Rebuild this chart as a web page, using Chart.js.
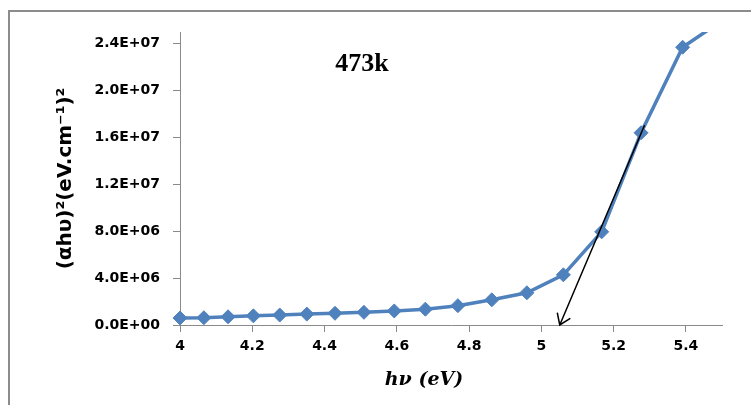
<!DOCTYPE html>
<html>
<head>
<meta charset="utf-8">
<script src="https://cdn.jsdelivr.net/npm/chart.js@4/dist/chart.umd.min.js"></script>
<style>
  html, body { margin: 0; padding: 0; background: #fff; }
  #wrap { position: relative; width: 751px; height: 405px; }
</style>
</head>
<body>
<div id="wrap"><canvas id="tauc"></canvas></div>
<script>
// Photon energy hν (eV): one reading every 5 nm, 310 nm down to 225 nm
const photonEnergy = [4.000, 4.066, 4.133, 4.203, 4.276, 4.351, 4.429, 4.509, 4.593,
                      4.679, 4.769, 4.863, 4.960, 5.061, 5.167, 5.276, 5.391, 5.511];
// (αhν)² in (eV·cm⁻¹)²
const alphaHvSquared = [6.0e5, 6.2e5, 7.0e5, 7.8e5, 8.5e5, 9.3e5, 1.0e6, 1.08e6, 1.2e6,
                        1.35e6, 1.65e6, 2.15e6, 2.75e6, 4.28e6, 7.95e6, 1.64e7, 2.37e7, 2.62e7];
const xTicks = [4, 4.2, 4.4, 4.6, 4.8, 5, 5.2, 5.4];
const yTicks = [0, 4e6, 8e6, 1.2e7, 1.6e7, 2.0e7, 2.4e7];
// Tangent to the absorption edge, extrapolated down to zero
const tangentFrom = [5.285, 1.70e7];
const tangentTo = [5.051, 0];

const sampleLabel = '473k';
const xTitle = 'hν (eV)';
const yTitle = '(αhυ)²(eV.cm⁻¹)²';

const AXIS_GREY = '#8a8a8a';
const SERIES_BLUE = '#4F81BD';
const tickFont = { family: '"DejaVu Sans", Verdana, sans-serif', size: 14, weight: 'bold' };

function sci(v) {
  if (v === 0) return '0.0E+00';
  const e = Math.floor(Math.log10(v) + 1e-9);
  const m = v / Math.pow(10, e);
  return m.toFixed(1) + 'E+' + String(e).padStart(2, '0');
}

const points = photonEnergy.map((x, i) => ({ x, y: alphaHvSquared[i] }));

// Outer frame, sample label and x-axis title
const decorations = {
  id: 'decorations',
  beforeDraw(chart) {
    const ctx = chart.ctx;
    ctx.save();
    ctx.fillStyle = '#8c8c8c';
    ctx.fillRect(8, 10, 2, chart.height - 10);
    ctx.fillRect(8, 10, chart.width - 8, 2);
    ctx.restore();
  },
  afterDraw(chart) {
    const ctx = chart.ctx;
    ctx.save();
    ctx.fillStyle = '#000';
    ctx.textAlign = 'center';
    ctx.textBaseline = 'middle';
    ctx.font = 'bold 26px "Liberation Serif", "Times New Roman", serif';
    ctx.fillText(sampleLabel, 362, 64);
    ctx.font = 'italic bold 19px "DejaVu Serif", serif';
    ctx.fillText(xTitle, 424, 380);
    ctx.restore();
  }
};

// Tangent arrow, placed through the chart scales
const tangentArrow = {
  id: 'tangentArrow',
  afterDatasetsDraw(chart) {
    const { x: xs, y: ys } = chart.scales;
    const x0 = xs.getPixelForValue(tangentFrom[0]);
    const y0 = ys.getPixelForValue(tangentFrom[1]);
    const x1 = xs.getPixelForValue(tangentTo[0]);
    const y1 = ys.getPixelForValue(tangentTo[1]);
    const ctx = chart.ctx;
    ctx.save();
    ctx.strokeStyle = '#000';
    ctx.lineWidth = 1.5;
    ctx.lineCap = 'round';
    ctx.beginPath();
    ctx.moveTo(x0, y0);
    ctx.lineTo(x1, y1);
    const ang = Math.atan2(y0 - y1, x0 - x1);
    const wing = 12, spread = 0.6;
    ctx.moveTo(x1 + wing * Math.cos(ang - spread), y1 + wing * Math.sin(ang - spread));
    ctx.lineTo(x1, y1);
    ctx.lineTo(x1 + wing * Math.cos(ang + spread), y1 + wing * Math.sin(ang + spread));
    ctx.stroke();
    ctx.restore();
  }
};

new Chart(document.getElementById('tauc'), {
  type: 'scatter',
  data: {
    datasets: [{
      data: points,
      showLine: true,
      borderColor: SERIES_BLUE,
      backgroundColor: SERIES_BLUE,
      borderWidth: 3.5,
      pointStyle: 'rectRot',
      pointRadius: 7,
      pointBorderWidth: 1,
      pointBackgroundColor: SERIES_BLUE,
      pointBorderColor: SERIES_BLUE,
      tension: 0,
      clip: { left: 12, top: 0, right: 0, bottom: 12 }
    }]
  },
  options: {
    responsive: true,
    maintainAspectRatio: false,
    animation: false,
    events: [],
    layout: { padding: { left: 0, top: 32, right: 29, bottom: 0 } },
    plugins: { legend: { display: false }, tooltip: { enabled: false } },
    scales: {
      x: {
        type: 'linear',
        min: 4,
        max: 5.5,
        afterBuildTicks: s => { s.ticks = xTicks.map(v => ({ value: v })); },
        afterFit: s => { s.height = 80; },
        border: { color: AXIS_GREY, width: 1 },
        grid: { drawOnChartArea: false, drawTicks: true, tickLength: 7, color: AXIS_GREY },
        ticks: {
          font: tickFont, color: '#000', padding: 6, maxRotation: 0, autoSkip: false,
          callback: v => String(parseFloat(Number(v).toFixed(2)))
        }
      },
      y: {
        type: 'linear',
        min: 0,
        max: 2.5e7,
        afterBuildTicks: s => { s.ticks = yTicks.map(v => ({ value: v })); },
        afterFit: s => { s.width = 180; },
        border: { color: AXIS_GREY, width: 1 },
        grid: { drawOnChartArea: false, drawTicks: true, tickLength: 7, color: AXIS_GREY },
        ticks: { font: tickFont, color: '#000', padding: 13, autoSkip: false, callback: v => sci(v) },
        title: {
          display: true,
          text: yTitle,
          color: '#000',
          font: { family: '"DejaVu Sans", Verdana, sans-serif', size: 20, weight: 'bold' },
          padding: { top: 54, bottom: 0 }
        }
      }
    }
  },
  plugins: [decorations, tangentArrow]
});
</script>
</body>
</html>
